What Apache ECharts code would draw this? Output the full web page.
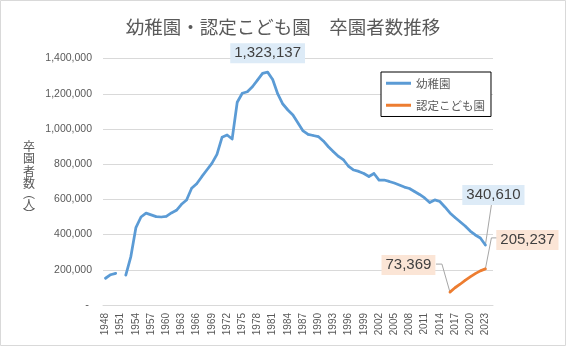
<!DOCTYPE html>
<html>
<head>
<meta charset="utf-8">
<script src="https://cdn.jsdelivr.net/npm/echarts@6/dist/echarts.min.js"></script>
<style>
  html, body { margin: 0; padding: 0; background: #fff; }
  #chart { width: 566px; height: 346px; }
</style>
</head>
<body>
<div id="chart"></div>
<script>
// 年度（カテゴリ）
const years = [
  '1948','1949','1950','1951','1952','1953','1954','1955','1956','1957',
  '1958','1959','1960','1961','1962','1963','1964','1965','1966','1967',
  '1968','1969','1970','1971','1972','1973','1974','1975','1976','1977',
  '1978','1979','1980','1981','1982','1983','1984','1985','1986','1987',
  '1988','1989','1990','1991','1992','1993','1994','1995','1996','1997',
  '1998','1999','2000','2001','2002','2003','2004','2005','2006','2007',
  '2008','2009','2010','2011','2012','2013','2014','2015','2016','2017',
  '2018','2019','2020','2021','2022','2023','2024'
];

// 幼稚園 卒園者数（人）
const kindergarten = [
  152000, 172000, 180000, null, 170000, 275000, 440000, 500000, 522000, 512000,
  502000, 500000, 504000, 523000, 538000, 572000, 597000, 663000, 689000, 729000,
  767000, 805000, 856000, 953000, 966000, 943000, 1152000, 1203000, 1212000, 1240000,
  1278000, 1316000, 1323137, 1281000, 1199000, 1142000, 1108000, 1080000, 1034000, 989000,
  969000, 963000, 957000, 932000, 899000, 871000, 844000, 824000, 787000, 767000,
  759000, 747000, 730000, 747000, 710000, 710000, 702000, 693000, 682000, 670000,
  662000, 645000, 628000, 608000, 582000, 597000, 588000, 557000, 523000, 497000,
  473000, 449000, 420000, 398000, 381000, 340610, null
];

// 認定こども園 卒園者数（人）
const kodomoen = [
  null, null, null, null, null, null, null, null, null, null,
  null, null, null, null, null, null, null, null, null, null,
  null, null, null, null, null, null, null, null, null, null,
  null, null, null, null, null, null, null, null, null, null,
  null, null, null, null, null, null, null, null, null, null,
  null, null, null, null, null, null, null, null, null, null,
  null, null, null, null, null, null, null, null, 73369, 98000,
  118000, 140000, 160000, 178000, 194000, 205237, null
];

const seriesNames = ['幼稚園', '認定こども園'];
const BLUE = '#5B9BD5';
const ORANGE = '#ED7D31';
const TEXT = '#595959';
const NUM_FONT = '"Liberation Sans", Arial, sans-serif';
const JP_FONT = '"Noto Sans CJK JP", "Noto Sans CJK SC", sans-serif';

const fmt = v => v.toLocaleString('en-US');

// 吹き出しラベル：対象の点、点からラベル中心までのずらし量、引き出し線の折れ点（点からの相対位置）
const callouts = [
  { series: 0, year: '2023', shift: [8, -50],     leader: [[6, -40]] },
  { series: 1, year: '2016', shift: [-41.5, -27], leader: [[-8, -28], [-14, -28]] },
  { series: 1, year: '2023', shift: [42, -29],    leader: [[6, -31], [12, -31]] }
];
const seriesValues = [kindergarten, kodomoen];
const peakIndex = kindergarten.indexOf(Math.max(...kindergarten.filter(v => v != null)));

function findCallout(seriesIndex, dataIndex) {
  return callouts.find(c => c.series === seriesIndex && years.indexOf(c.year) === dataIndex);
}

function calloutLabel(bg) {
  return {
    show: true,
    position: 'inside',
    formatter: p => fmt(p.value),
    color: '#404040',
    fontSize: 15,
    fontFamily: NUM_FONT,
    lineHeight: 16,
    backgroundColor: bg,
    padding: [2, 4, 2, 4]
  };
}

function buildData(values, seriesIndex, bg) {
  return values.map((v, i) => {
    if (v == null) return v;
    if (seriesIndex === 0 && i === peakIndex) {
      return {
        value: v,
        label: Object.assign(calloutLabel(bg), { position: 'top', distance: 8 })
      };
    }
    if (findCallout(seriesIndex, i)) {
      return { value: v, label: calloutLabel(bg) };
    }
    return v;
  });
}

function makeLayout(seriesIndex) {
  return function (params) {
    const c = findCallout(seriesIndex, params.dataIndex);
    if (!c) return {};
    return { dx: c.shift[0], dy: c.shift[1] };
  };
}

const chart = echarts.init(document.getElementById('chart'), null, { renderer: 'canvas' });

const baseGraphics = [
  {
    id: 'frame',
    type: 'rect',
    silent: true,
    shape: { x: 0.5, y: 0.5, width: 565, height: 345 },
    style: { fill: 'none', stroke: '#d9d9d9', lineWidth: 1 }
  },
  {
    id: 'yname',
    type: 'text',
    silent: true,
    left: 23,
    top: 140,
    style: {
      text: '{c|卒}\n{c|園}\n{c|者}\n{c|数}\n{p|︵}\n{c|人}\n{p|︶}',
      fill: TEXT,
      font: '12px ' + JP_FONT,
      rich: {
        c: { fontSize: 12, lineHeight: 12.5, fontFamily: JP_FONT, fill: TEXT },
        p: { fontSize: 12, lineHeight: 8, fontFamily: JP_FONT, fill: TEXT }
      }
    }
  }
];

chart.setOption({
  animation: false,
  backgroundColor: '#fff',
  textStyle: { fontFamily: NUM_FONT },
  title: {
    text: '幼稚園・認定こども園　卒園者数推移',
    left: 'center',
    top: 18,
    padding: 0,
    textStyle: { fontFamily: JP_FONT, fontSize: 18.5, fontWeight: 'normal', color: TEXT }
  },
  legend: {
    data: seriesNames,
    orient: 'vertical',
    left: 381,
    top: 72,
    backgroundColor: '#fff',
    borderColor: '#000',
    borderWidth: 1,
    borderRadius: 0,
    padding: [5.5, 6, 5.5, 5],
    itemGap: 10.5,
    itemWidth: 25,
    itemHeight: 3,
    icon: 'rect',
    textStyle: { fontFamily: JP_FONT, fontSize: 11.5, color: TEXT }
  },
  grid: { left: 103, right: 73, top: 58.6, bottom: 41, containLabel: false },
  xAxis: {
    type: 'category',
    data: years,
    boundaryGap: true,
    axisLine: { lineStyle: { color: '#d9d9d9', width: 1 } },
    axisTick: { show: false },
    axisLabel: {
      interval: 2,
      rotate: 90,
      margin: 8,
      fontSize: 10,
      color: TEXT,
      fontFamily: NUM_FONT
    },
    splitLine: { show: false }
  },
  yAxis: {
    type: 'value',
    min: 0,
    max: 1400000,
    interval: 200000,
    axisLine: { show: false },
    axisTick: { show: false },
    axisLabel: {
      margin: 11,
      fontSize: 10.5,
      color: TEXT,
      fontFamily: NUM_FONT,
      formatter: v => (v === 0 ? '{d|-}' : fmt(v)),
      rich: {
        d: { fontSize: 11, color: TEXT, fontFamily: NUM_FONT, padding: [0, 3, 0, 0] }
      }
    },
    splitLine: { lineStyle: { color: '#d9d9d9', width: 1 } }
  },
  graphic: baseGraphics,
  series: [
    {
      name: seriesNames[0],
      type: 'line',
      data: buildData(kindergarten, 0, '#DDEBF7'),
      connectNulls: false,
      symbol: 'circle',
      symbolSize: 2,
      showSymbol: true,
      showAllSymbol: true,
      itemStyle: { color: BLUE },
      lineStyle: { color: BLUE, width: 2.75, cap: 'round', join: 'round' },
      label: { show: false },
      labelLayout: makeLayout(0),
      emphasis: { disabled: true },
      z: 2
    },
    {
      name: seriesNames[1],
      type: 'line',
      data: buildData(kodomoen, 1, '#FBE5D6'),
      connectNulls: false,
      symbol: 'circle',
      symbolSize: 2,
      showSymbol: true,
      showAllSymbol: true,
      itemStyle: { color: ORANGE },
      lineStyle: { color: ORANGE, width: 2.75, cap: 'round', join: 'round' },
      label: { show: false },
      labelLayout: makeLayout(1),
      emphasis: { disabled: true },
      z: 3
    }
  ]
});

// 引き出し線：データ点の位置は軸のスケールから求める
const leaders = callouts.map((c, k) => {
  const i = years.indexOf(c.year);
  const p = chart.convertToPixel({ seriesIndex: c.series }, [i, seriesValues[c.series][i]]);
  const pts = [p].concat(c.leader.map(d => [p[0] + d[0], p[1] + d[1]]));
  return {
    id: 'leader' + k,
    type: 'polyline',
    silent: true,
    z: 1,
    shape: { points: pts },
    style: { stroke: '#a6a6a6', lineWidth: 1, fill: null }
  };
});
chart.setOption({ graphic: baseGraphics.concat(leaders) });
</script>
</body>
</html>
